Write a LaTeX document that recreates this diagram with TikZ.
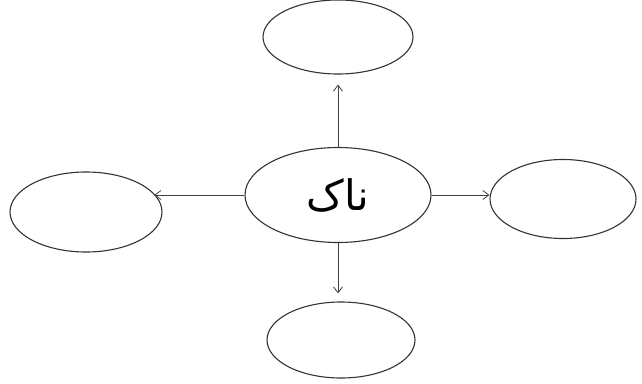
\documentclass[tikz,border=0pt]{standalone}
\usepackage{fontspec}
\usetikzlibrary{shapes.geometric,arrows.meta}
\TeXXeTstate=1
\newfontfamily\arabicfont[Script=Arabic]{DejaVu Sans}
\begin{document}
\begin{tikzpicture}[x=1pt,y=-1pt,
  bubble/.style={draw=black!80, line width=1.1pt, ellipse, inner sep=0pt},
  arr/.style={draw=black!75, line width=0.8pt, -{Straight Barb[length=6pt,width=9pt,line width=0.8pt]}}]
\useasboundingbox (0,0) rectangle (642,383);
\node[bubble, minimum width=186pt, minimum height=95pt] (c) at (338,195) {\fontsize{42}{42}\selectfont\arabicfont\beginR ناک\endR};
\node[bubble, minimum width=150pt, minimum height=74pt] (t) at (338,37) {};
\node[bubble, minimum width=152pt, minimum height=80pt] (l) at (86,212) {};
\node[bubble, minimum width=146pt, minimum height=79pt] (r) at (563,199) {};
\node[bubble, minimum width=148pt, minimum height=76pt] (b) at (341,340) {};
\draw[arr, shorten >=10pt] (c.north) -- (t.south);
\draw[arr, shorten >=8pt] (c.south) -- (b.north -| c.south);
\draw[arr] (c.west) -- (c.west -| l.15);
\draw[arr] (c.east) -- (c.east -| r.west);
\end{tikzpicture}
\end{document}
